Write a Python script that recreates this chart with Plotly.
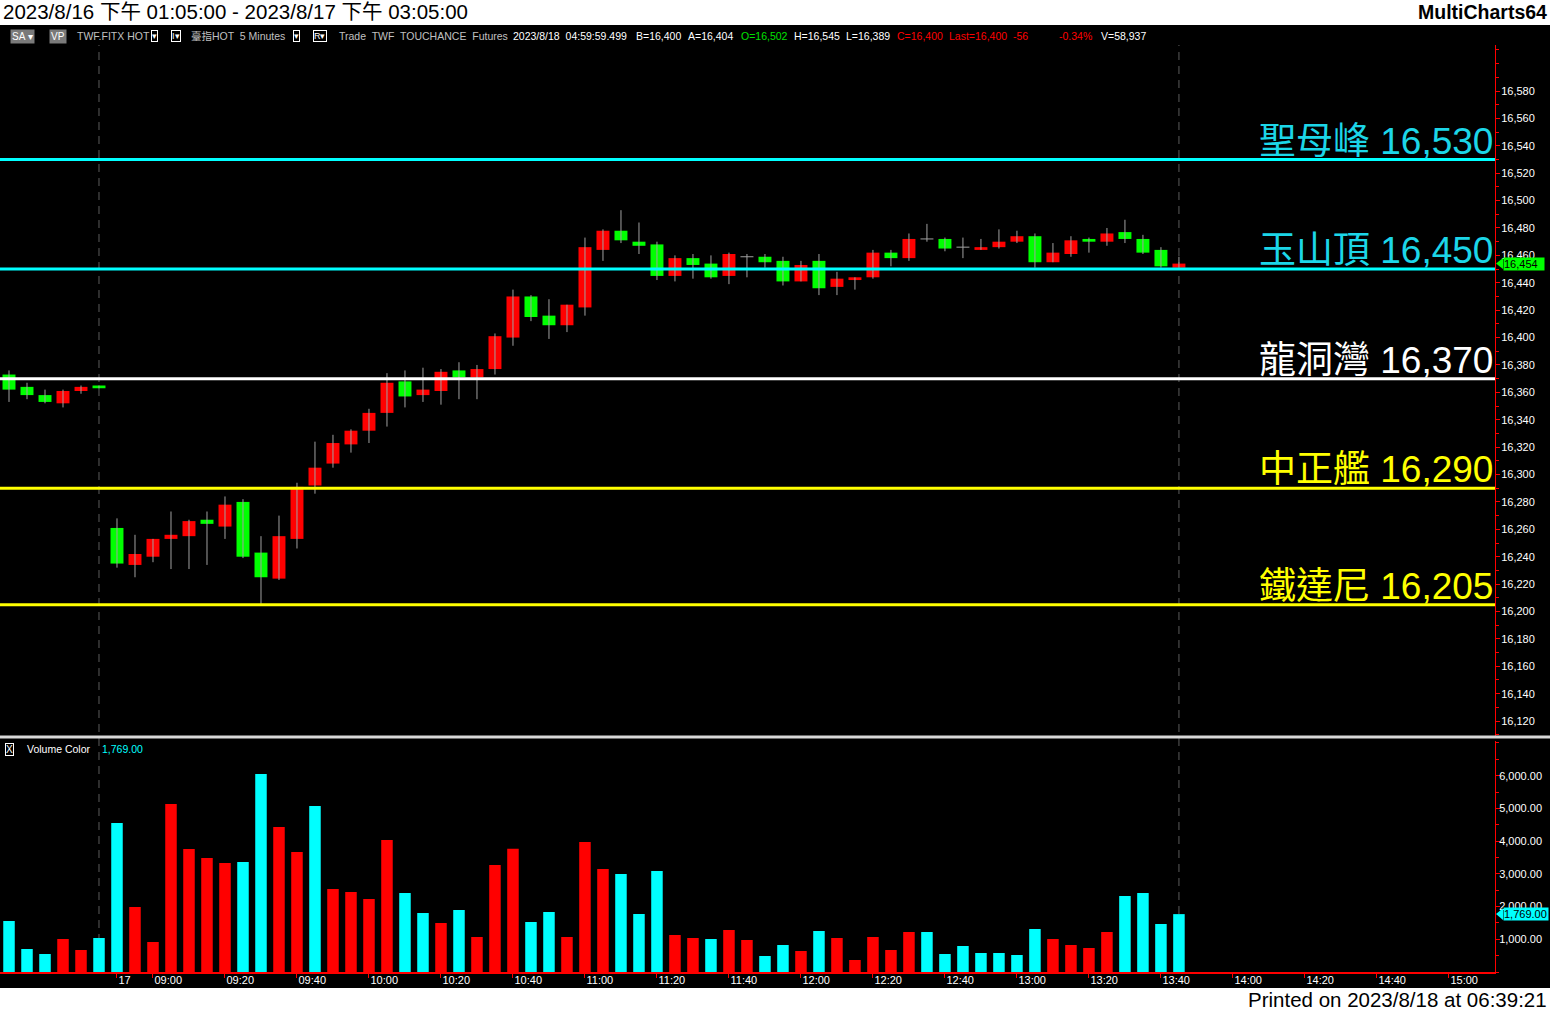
import plotly.graph_objects as go

W, H = 1550, 1011

# ---------------- data ----------------
opens = [16373, 16364, 16358, 16352, 16361, 16365,
         16261, 16234, 16240, 16253, 16255, 16267, 16262, 16280, 16243, 16224, 16253, 16292,
         16308, 16322, 16332, 16345, 16368, 16358, 16361, 16376, 16371, 16377, 16400, 16430,
         16416, 16409, 16422, 16464, 16478, 16470, 16468, 16445, 16458, 16454, 16445, 16459,
         16459, 16456, 16441, 16456, 16437, 16442, 16444, 16462, 16458, 16472, 16472, 16466,
         16464, 16466, 16470, 16474, 16455, 16461, 16472, 16470, 16477, 16472, 16464, 16451]
highs = [16376, 16367, 16362, 16362, 16365, 16365,
         16268, 16256, 16253, 16273, 16267, 16273, 16284, 16282, 16255, 16270, 16294, 16324,
         16329, 16333, 16348, 16374, 16376, 16378, 16377, 16382, 16380, 16403, 16435, 16431,
         16428, 16424, 16473, 16479, 16493, 16484, 16470, 16460, 16461, 16460, 16462, 16461,
         16461, 16459, 16456, 16461, 16448, 16444, 16464, 16464, 16476, 16483, 16473, 16473,
         16472, 16479, 16478, 16476, 16469, 16474, 16473, 16480, 16486, 16475, 16466, 16459]
lows = [16353, 16355, 16352, 16349, 16359, 16363,
        16232, 16225, 16236, 16231, 16231, 16234, 16253, 16239, 16205, 16223, 16246, 16286,
        16305, 16316, 16323, 16335, 16349, 16353, 16351, 16355, 16355, 16373, 16394, 16412,
        16399, 16404, 16416, 16456, 16469, 16461, 16442, 16441, 16443, 16443, 16439, 16444,
        16451, 16438, 16441, 16431, 16431, 16435, 16443, 16452, 16456, 16470, 16463, 16458,
        16464, 16465, 16469, 16451, 16455, 16459, 16462, 16467, 16469, 16461, 16451, 16451]
closes = [16362, 16358, 16353, 16361, 16364, 16363,
          16235, 16242, 16253, 16256, 16266, 16264, 16278, 16240, 16225, 16255, 16291, 16305,
          16323, 16332, 16345, 16367, 16357, 16362, 16375, 16371, 16377, 16401, 16430, 16415,
          16409, 16424, 16466, 16478, 16471, 16467, 16445, 16458, 16453, 16444, 16461, 16459,
          16455, 16441, 16453, 16436, 16443, 16444, 16462, 16458, 16472, 16472, 16465, 16466,
          16466, 16470, 16474, 16455, 16462, 16471, 16470, 16476, 16472, 16462, 16452, 16454]
volumes = [1559, 703, 550, 1009, 672, 1039,
           4554, 1987, 917, 5134, 3759, 3484, 3331, 3362, 6051, 4431, 3667, 5073,
           2537, 2445, 2231, 4034, 2414, 1803, 1497, 1895, 1070, 3270, 3770, 1528,
           1834, 1070, 3973, 3148, 2995, 1773, 3087, 1131, 1039, 1009, 1284, 978,
           489, 825, 642, 1253, 1039, 367, 1070, 672, 1222, 1222, 550, 795,
           581, 581, 520, 1314, 1009, 825, 734, 1222, 2323, 2414, 1467, 1769]
vol_up = [0, 0, 0, 1, 1, 0,
          0, 1, 1, 1, 1, 1, 1, 0, 0, 1, 1, 0,
          1, 1, 1, 1, 0, 0, 1, 0, 1, 1, 1, 0,
          0, 1, 1, 1, 0, 0, 0, 1, 1, 0, 1, 1,
          0, 0, 1, 0, 1, 1, 1, 1, 1, 0, 0, 0,
          0, 0, 0, 0, 1, 1, 1, 1, 0, 0, 0, 0]
session_breaks = [5, 65]
tick_idx = [6, 8, 12, 16, 20, 24, 28, 32, 36, 40, 44, 48, 52, 56, 60, 64, 68, 72, 76, 80]
tick_labels = ["17", "09:00", "09:20", "09:40", "10:00", "10:20", "10:40", "11:00", "11:20",
               "11:40", "12:00", "12:20", "12:40", "13:00", "13:20", "13:40", "14:00", "14:20",
               "14:40", "15:00"]
price_ticks = list(range(16120, 16581, 20))
vol_ticks = [1000, 2000, 3000, 4000, 5000, 6000]
levels = [16530, 16450, 16370, 16290, 16205]
level_names = ["聖母峰", "玉山頂", "龍洞灣", "中正艦", "鐵達尼"]

# ---------------- styles ----------------
RED, GREEN, CYAN = "#ff0000", "#00ff00", "#00ffff"
level_line_colors = ["#00ffff", "#00ffff", "#ffffff", "#ffff00", "#ffff00"]
level_text_colors = ["#1cd6e8", "#1cd6e8", "#ffffff", "#ffff00", "#ffff00"]
FONT = "Liberation Sans, Arial, Noto Sans CJK TC, sans-serif"


def py(px):
    return 1 - px / H


def pxx(px):
    return px / W


n = len(opens)
idx = list(range(n))
XR = [-0.5, 82.56]

fig = go.Figure()

# wicks (and doji crosses)
wx, wy = [], []
for i in idx:
    wx += [i, i, None]
    wy += [lows[i], highs[i], None]
    if opens[i] == closes[i]:
        wx += [i - 0.36, i + 0.36, None]
        wy += [opens[i], closes[i], None]
fig.add_trace(go.Scatter(x=wx, y=wy, mode="lines", line=dict(color="#a0a0a0", width=1),
                         hoverinfo="skip", xaxis="x", yaxis="y"))

# candle bodies
body_base = [min(o, c) for o, c in zip(opens, closes)]
body_h = [abs(c - o) for o, c in zip(opens, closes)]
body_col = [RED if c > o else GREEN for o, c in zip(opens, closes)]
fig.add_trace(go.Bar(x=idx, y=body_h, base=body_base, width=0.72,
                     marker=dict(color=body_col, line=dict(width=0)),
                     xaxis="x", yaxis="y"))

# volume
fig.add_trace(go.Bar(x=idx, y=volumes, width=0.64,
                     marker=dict(color=[RED if u else CYAN for u in vol_up], line=dict(width=0)),
                     xaxis="x2", yaxis="y2"))

shapes = []
# black chart background
shapes.append(dict(type="rect", xref="paper", yref="paper", x0=0, x1=1, y0=py(988), y1=py(25),
                   fillcolor="#000000", line=dict(width=0), layer="below"))
# session break dashed lines
for b in session_breaks:
    shapes.append(dict(type="line", xref="x", yref="paper", x0=b, x1=b, y0=py(970), y1=py(45),
                       line=dict(color="#5c5c5c", width=1, dash="8px,6px"), layer="below"))
# level lines
for lv, col in zip(levels, level_line_colors):
    shapes.append(dict(type="line", xref="paper", yref="y", x0=0, x1=pxx(1495), y0=lv, y1=lv,
                       line=dict(color=col, width=3)))
# pane separator
shapes.append(dict(type="line", xref="paper", yref="paper", x0=0, x1=1, y0=py(737), y1=py(737),
                   line=dict(color="#d8d8d8", width=3)))
# price marker arrow
last_c = closes[-1]
shapes.append(dict(type="path", xref="paper", yref="y",
                   path=f"M {pxx(1496)} {last_c} L {pxx(1503)} {last_c + 4} L {pxx(1503)} {last_c - 4} Z",
                   fillcolor=GREEN, line=dict(width=0)))
last_v = volumes[-1]
shapes.append(dict(type="path", xref="paper", yref="y2",
                   path=f"M {pxx(1496)} {last_v} L {pxx(1503)} {last_v + 180} L {pxx(1503)} {last_v - 180} Z",
                   fillcolor=CYAN, line=dict(width=0)))

anns = []


def ann(x, y, text, color, size=10.5, xanchor="left", **kw):
    d = dict(xref="paper", yref="paper", x=pxx(x), y=py(y), text=text, showarrow=False,
             xanchor=xanchor, yanchor="middle", font=dict(family=FONT, size=size, color=color))
    d.update(kw)
    anns.append(d)


# header and footer
ann(1, 12, "2023/8/16 下午 01:05:00 - 2023/8/17 下午 03:05:00", "#000000", size=20.5)
ann(1549, 12, "<b>MultiCharts64</b>", "#000000", size=19.5, xanchor="right")
ann(1549, 999, "Printed on 2023/8/18 at 06:39:21", "#000000", size=20.5, xanchor="right")

# info line
GR = "#c0c0c0"
ann(10, 36, "SA ▾", "#ffffff", size=10, bgcolor="#7a7a7a", borderpad=1)
ann(49, 36, "VP", "#ffffff", size=10, bgcolor="#7a7a7a", borderpad=1)
ann(75, 36, "TWF.FITX HOT", GR)
ann(151, 36, "▾", "#ffffff", size=9, bordercolor="#ffffff", borderwidth=1, borderpad=0)
ann(171, 36, "I▾", "#ffffff", size=9, bordercolor="#ffffff", borderwidth=1, borderpad=0)
ann(189, 36, "臺指HOT  5 Minutes", GR)
ann(293, 36, "▾", "#ffffff", size=9, bordercolor="#ffffff", borderwidth=1, borderpad=0)
ann(313, 36, "R▾", "#ffffff", size=9, bordercolor="#ffffff", borderwidth=1, borderpad=0)
ann(337, 36, "Trade  TWF  TOUCHANCE  Futures", GR)
ann(511, 36, "2023/8/18  04:59:59.499", "#ffffff")
ann(634, 36, "B=16,400", "#ffffff")
ann(686, 36, "A=16,404", "#ffffff")
ann(739, 36, "O=16,502", "#00e000")
ann(792, 36, "H=16,545", "#ffffff")
ann(844, 36, "L=16,389", "#ffffff")
ann(895, 36, "C=16,400", "#ff0000")
ann(947, 36, "Last=16,400  -56", "#ff0000")
ann(1057, 36, "-0.34%", "#ff0000")
ann(1099, 36, "V=58,937", "#ffffff")

# volume pane label
ann(5, 749, "X", "#ffffff", size=10, bordercolor="#ffffff", borderwidth=1, borderpad=0)
ann(25, 749, "Volume Color", "#ffffff")
ann(100, 749, f"{volumes[-1]:,.2f}", CYAN)

# level labels
for lv, nm, col in zip(levels, level_names, level_text_colors):
    anns.append(dict(xref="paper", yref="y", x=pxx(1495), y=lv, text=f"{nm} {lv:,}",
                     showarrow=False, xanchor="right", yanchor="bottom", yshift=-4,
                     font=dict(family=FONT, size=37, color=col)))

# right-side value markers
anns.append(dict(xref="paper", yref="y", x=pxx(1503), y=last_c, text=f"{last_c:,}",
                 showarrow=False, xanchor="left", yanchor="middle", bgcolor=GREEN,
                 width=40, align="left", borderpad=0,
                 font=dict(family=FONT, size=11, color="#000000")))
anns.append(dict(xref="paper", yref="y2", x=pxx(1503), y=last_v, text=f"{last_v:,.2f}",
                 showarrow=False, xanchor="left", yanchor="middle", bgcolor=CYAN,
                 width=44, align="left", borderpad=0,
                 font=dict(family=FONT, size=11, color="#000000")))

tickfont = dict(family=FONT, size=11, color="#ffffff")

fig.update_layout(
    width=W, height=H, margin=dict(l=0, r=0, t=0, b=0),
    paper_bgcolor="#ffffff", plot_bgcolor="#000000",
    showlegend=False, shapes=shapes, annotations=anns,
    xaxis=dict(domain=[0, pxx(1495)], range=XR, showticklabels=False, showgrid=False,
               zeroline=False, showline=False, ticks="", anchor="y"),
    yaxis=dict(domain=[py(736), py(45)], range=[16109.1, 16613.6], side="right", anchor="x",
               tickvals=price_ticks, tickformat=",d", tickfont=tickfont,
               showgrid=False, zeroline=False, showline=True, linecolor=RED, linewidth=1,
               ticks="outside", ticklen=4, tickcolor=RED, ticklabelstandoff=-1,
               minor=dict(dtick=10, tick0=16100, ticks="outside", ticklen=3, tickcolor=RED)),
    xaxis2=dict(domain=[0, pxx(1495)], range=XR, anchor="y2", showgrid=False, zeroline=False,
                showline=True, linecolor=RED, linewidth=2,
                tickvals=tick_idx, ticktext=tick_labels, tickfont=tickfont,
                ticklabelposition="outside right", ticklabelstandoff=-3,
                ticks="outside", ticklen=4, tickcolor=RED),
    yaxis2=dict(domain=[py(972), py(741)], range=[0, 7060], side="right", anchor="x2",
                tickvals=vol_ticks, tickformat=",.2f", tickfont=tickfont,
                showgrid=False, zeroline=False, showline=True, linecolor=RED, linewidth=1,
                ticks="outside", ticklen=4, tickcolor=RED, ticklabelstandoff=-3,
                minor=dict(dtick=500, tick0=0, ticks="outside", ticklen=3, tickcolor=RED)),
)

fig.write_html("out.html", config={"displayModeBar": False},
               post_script="document.body.style.margin='0';document.body.style.overflow='hidden';")
